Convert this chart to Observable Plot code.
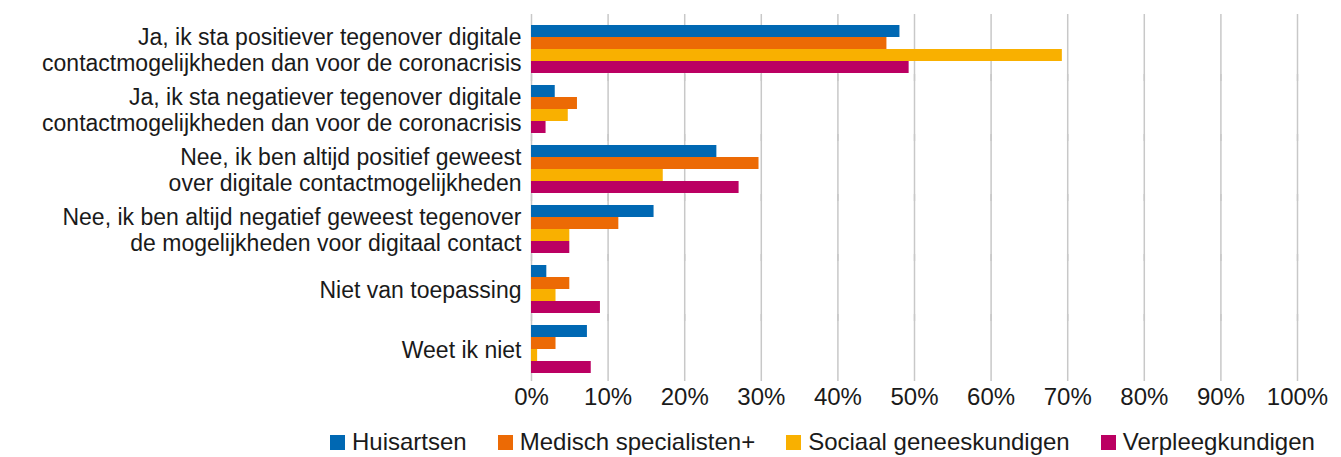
<!DOCTYPE html>
<html>
<head>
<meta charset="utf-8">
<script src="https://cdn.jsdelivr.net/npm/d3@7"></script>
<script src="https://cdn.jsdelivr.net/npm/@observablehq/plot@0.6"></script>
<style>
  html, body { margin: 0; padding: 0; background: #fff; }
  body { width: 1341px; height: 457px; overflow: hidden; font-family: "Liberation Sans", sans-serif; }
  #legend { display: flex; align-items: center; padding-left: 330px; height: 34px; padding-top: 6px; font-size: 24px; color: #1a1a1a; }
  .item { display: flex; align-items: center; margin-right: 31px; white-space: nowrap; }
  .sw { width: 15px; height: 15px; margin-right: 7px; display: inline-block; }
</style>
</head>
<body>
<div id="chart"></div>
<div id="legend"></div>
<script>
const categories = [
  "Ja, ik sta positiever tegenover digitale\ncontactmogelijkheden dan voor de coronacrisis",
  "Ja, ik sta negatiever tegenover digitale\ncontactmogelijkheden dan voor de coronacrisis",
  "Nee, ik ben altijd positief geweest\nover digitale contactmogelijkheden",
  "Nee, ik ben altijd negatief geweest tegenover\nde mogelijkheden voor digitaal contact",
  "Niet van toepassing",
  "Weet ik niet"
];
const seriesNames = ["Huisartsen", "Medisch specialisten+", "Sociaal geneeskundigen", "Verpleegkundigen"];
const colors = ["#0068b3", "#ec6a05", "#f9b000", "#bb0062"];
const huisartsen = [48.1, 3.1, 24.2, 16.0, 2.0, 7.3];
const medisch = [46.4, 6.0, 29.7, 11.4, 5.0, 3.2];
const sociaal = [69.3, 4.8, 17.2, 5.0, 3.2, 0.8];
const verpleeg = [49.3, 1.9, 27.1, 5.0, 9.0, 7.8];
const xTicks = [0, 10, 20, 30, 40, 50, 60, 70, 80, 90, 100];

const seriesValues = [huisartsen, medisch, sociaal, verpleeg];
const data = [];
categories.forEach((c, i) => {
  seriesNames.forEach((s, j) => data.push({category: c, series: s, value: seriesValues[j][i]}));
});

const chart = Plot.plot({
  width: 1341,
  height: 419,
  marginLeft: 531,
  marginRight: 44,
  marginTop: 19,
  marginBottom: 40,
  style: {fontFamily: "Liberation Sans, sans-serif", fontSize: "22px", color: "#1a1a1a", background: "#fff"},
  x: {domain: [0, 100], ticks: xTicks, tickFormat: d => d + "%"},
  fy: {domain: categories, padding: 0},
  y: {domain: seriesNames, paddingInner: 0, paddingOuter: 0.5, axis: null},
  color: {domain: seriesNames, range: colors},
  marks: [
    Plot.ruleX(xTicks, {stroke: "#c8c8c8", strokeWidth: 1.5, insetTop: -5, insetBottom: -2}),
    Plot.barX(data, {fy: "category", y: "series", x: "value", fill: "series"}),
    Plot.axisX(xTicks, {anchor: "bottom", tickSize: 0, tickPadding: 8, fontSize: 24, label: null, tickFormat: d => d + "%"}),
    Plot.axisFy({anchor: "left", tickSize: 0, tickPadding: 10, fontSize: 23, lineHeight: 1.15, label: null})
  ]
});
document.getElementById("chart").appendChild(chart);

const legend = document.getElementById("legend");
seriesNames.forEach((s, i) => {
  const it = document.createElement("div");
  it.className = "item";
  const sw = document.createElement("span");
  sw.className = "sw";
  sw.style.background = colors[i];
  it.appendChild(sw);
  it.appendChild(document.createTextNode(s));
  legend.appendChild(it);
});
</script>
</body>
</html>
